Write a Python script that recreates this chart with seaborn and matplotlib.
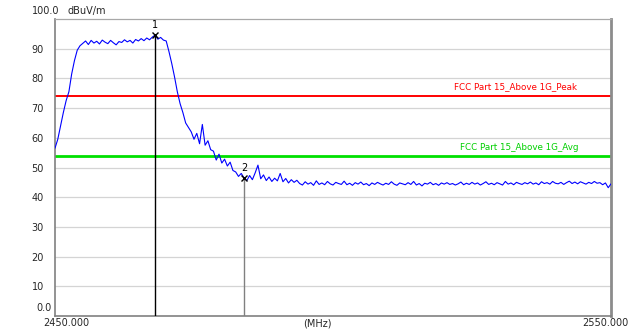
import numpy as np
import pandas as pd
import matplotlib
matplotlib.use("Agg")
import matplotlib.pyplot as plt
import seaborn as sns

# ---- data ----
freq_start = 2450.0
freq_stop = 2550.0
level_rise_and_band = [
    56.5, 59.5, 64.0, 68.5, 72.5, 75.5, 81.5, 86.0, 89.5, 91.0,
    91.8, 92.6, 91.4, 92.8, 91.9, 92.5, 91.6, 92.9, 92.2, 91.7,
    92.8, 92.0, 91.3, 92.4, 92.1, 93.0, 92.3, 92.8, 91.9, 93.1,
    92.6, 93.4, 92.7, 93.6, 93.0, 93.9, 94.6, 93.2, 93.8, 92.9,
    92.6, 89.0, 85.0, 80.5, 75.5, 71.5, 68.5, 65.0, 63.5, 62.0,
    59.5, 61.5, 58.0, 64.5, 57.5, 59.0, 56.0, 55.5, 52.5, 54.5,
    51.5, 52.8, 50.5, 51.8, 49.0, 48.5, 47.0, 48.0, 46.5, 45.6,
    47.3, 45.9, 48.2, 50.8, 46.2, 47.5, 45.6, 46.8, 45.3, 46.4,
    45.5, 48.0, 45.2, 46.3, 44.8, 45.9, 45.0, 45.7,
]
level_floor = [
    44.6, 44.1, 45.2, 44.4, 44.9, 44.0, 45.5, 44.3, 44.8, 44.2,
    45.3, 44.5, 44.1, 45.0, 44.6, 44.3, 45.4, 44.2, 44.7, 44.0,
    44.9, 44.4, 45.1, 44.2, 44.6, 43.9, 44.8, 44.3, 45.0, 44.5,
    44.1, 44.7, 44.3, 45.2, 44.4, 44.0, 44.8, 44.5, 44.2, 44.9,
    44.3, 45.3, 44.1, 44.6, 43.8, 44.7, 44.4, 45.0, 44.2, 44.6,
    44.0, 44.8, 44.4, 44.9, 44.3, 44.6, 44.1, 44.5, 45.1, 44.2,
    44.7, 44.3, 45.0, 44.4, 44.8, 44.1, 44.6, 45.2, 44.3, 44.7,
    44.2, 44.9, 44.5, 44.1, 45.3, 44.4, 44.8, 44.2, 45.0, 44.6,
    44.3, 44.9, 44.5, 45.1, 44.4, 44.8, 44.2, 45.2, 44.6, 44.9,
    44.4, 45.3, 44.7, 44.5, 45.0, 44.3, 44.9, 45.4, 44.6, 45.1,
    44.5, 45.2, 44.8, 44.4, 45.0, 44.6, 45.3, 44.7, 44.9, 44.2,
    44.8, 43.2, 44.5,
]
levels = level_rise_and_band + level_floor
freqs = np.linspace(freq_start, freq_stop, len(levels))

limit_peak = 74.0
limit_avg = 54.0
limit_peak_label = "FCC Part 15_Above 1G_Peak"
limit_avg_label = "FCC Part 15_Above 1G_Avg"

marker_freqs = [2468.0, 2484.0]
marker_levels = [94.6, 46.5]
marker_names = ["1", "2"]

y_ticks = [10, 20, 30, 40, 50, 60, 70, 80, 90]
y_tick_labels = ["10", "20", "30", "40", "50", "60", "70", "80", "90"]

df = pd.DataFrame({"freq": freqs, "level": levels})

# ---- figure ----
sns.set_style("white")
plt.rcParams["font.family"] = ["DejaVu Sans"]

fig = plt.figure(figsize=(6.36, 3.33), dpi=100)
ax = fig.add_axes([55 / 636, 1 - 316 / 333, (611 - 55) / 636, (316 - 19) / 333])

ax.set_xlim(freq_start, freq_stop)
ax.set_ylim(0, 100)

for y in y_ticks:
    ax.axhline(y, color="#d4d4d4", lw=0.9, zorder=0)

ax.axhline(limit_peak, color="#ff0000", lw=1.4, zorder=2)
ax.axhline(limit_avg, color="#00e000", lw=2.0, zorder=2)

sns.lineplot(data=df, x="freq", y="level", ax=ax, color="#0000ff",
             lw=0.8, zorder=3, legend=False)

# markers
line_colors = ["#000000", "#808080"]
for f, lv, name, c in zip(marker_freqs, marker_levels, marker_names, line_colors):
    ax.plot([f, f], [0, lv], color=c, lw=1.0, zorder=4)
    ax.plot([f], [lv], marker="x", color="black", ms=5, mew=1.0, zorder=5)
    ax.text(f, lv + 1.8, name, ha="center", va="bottom", fontsize=7, color="black", zorder=5)

ax.text(0.938, (limit_peak + 3.1) / 100, limit_peak_label, transform=ax.transAxes,
        ha="right", va="center", fontsize=6.3, color="#ff0000")
ax.text(0.942, (limit_avg + 2.9) / 100, limit_avg_label, transform=ax.transAxes,
        ha="right", va="center", fontsize=6.3, color="#00d000")

ax.set_yticks(y_ticks)
ax.set_yticklabels(y_tick_labels, fontsize=7)
ax.set_xticks([])
ax.tick_params(axis="y", length=0, pad=8)
ax.set_xlabel("")
ax.set_ylabel("")

for side in ["left", "bottom"]:
    ax.spines[side].set_color("#808080")
    ax.spines[side].set_linewidth(1.2)
ax.spines["top"].set_color("#a8a8a8")
ax.spines["top"].set_linewidth(0.9)
ax.spines["right"].set_color("#8c8c8c")
ax.spines["right"].set_linewidth(2.0)

fig.text(46 / 636, 1 - 11 / 333, "100.0", ha="center", va="center", fontsize=7)
fig.text(87 / 636, 1 - 11 / 333, "dBuV/m", ha="center", va="center", fontsize=7)
fig.text(44 / 636, 1 - 308 / 333, "0.0", ha="center", va="center", fontsize=7)
fig.text(66 / 636, 1 - 323 / 333, "2450.000", ha="center", va="center", fontsize=7)
fig.text(317 / 636, 1 - 323 / 333, "(MHz)", ha="center", va="center", fontsize=7)
fig.text(605 / 636, 1 - 323 / 333, "2550.000", ha="center", va="center", fontsize=7)

fig.savefig("out.png", dpi=100, facecolor="white")
